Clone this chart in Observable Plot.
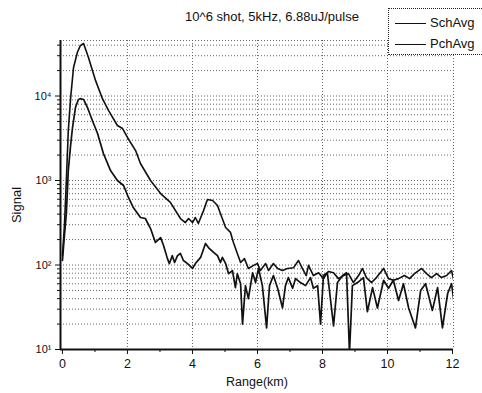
<!DOCTYPE html>
<html>
<head>
<meta charset="utf-8">
<script src="https://cdn.jsdelivr.net/npm/d3@7"></script>
<script src="https://cdn.jsdelivr.net/npm/@observablehq/plot@0.6"></script>
<style>
  html, body { margin: 0; padding: 0; background: #fff; overflow: hidden; }
  #wrap { position: relative; width: 482px; height: 393px; font-family: "Liberation Sans", Arial, sans-serif; }
  #title { position: absolute; top: 9px; left: 272px; transform: translateX(-50%); font-size: 13px; white-space: nowrap; color: #111; }
  #ylabel { position: absolute; left: 16px; top: 205px; transform: translate(-50%, -50%) rotate(-90deg); font-size: 13px; white-space: nowrap; color: #111; }
  #legend { position: absolute; left: 388px; top: 8px; width: 110px; height: 45px; border: 1px dotted #222; background: #fff; }
  .item { position: absolute; left: 6px; height: 16px; font-size: 13px; line-height: 16px; color: #111; white-space: nowrap; }
  .item .sw { display: inline-block; width: 31px; border-top: 1.4px solid #111; vertical-align: middle; margin-right: 4px; }
  svg text { fill: #111; }
</style>
</head>
<body>
<div id="wrap">
  <div id="chart"></div>
  <div id="title"></div>
  <div id="ylabel"></div>
  <div id="legend"></div>
</div>
<script>
// ---- data (km, signal) ----
const titleText = "10^6 shot, 5kHz, 6.88uJ/pulse";
const yLabelText = "Signal";
const xLabelText = "Range(km)";
const seriesNames = ["SchAvg", "PchAvg"];
const xTicks = [0, 2, 4, 6, 8, 10, 12];
const xMinorTicks = [1, 3, 5, 7, 9, 11];
const yTicks = [10, 100, 1000, 10000];

const schKm = [0.00, 0.06, 0.12, 0.18, 0.25, 0.34, 0.46, 0.55, 0.65, 0.80, 1.02, 1.23, 1.42, 1.69, 1.85, 2.00, 2.25, 2.40, 2.71, 3.02, 3.32, 3.63, 3.78, 3.88, 4.00, 4.09, 4.18, 4.34, 4.46, 4.62, 4.77, 4.86, 5.02, 5.17, 5.26, 5.38, 5.48, 5.60,
  5.72, 5.88, 6.00, 6.09, 6.25, 6.34, 6.49, 6.62, 6.77, 6.92, 7.11, 7.26, 7.38, 7.50, 7.57, 7.72, 7.88, 8.03, 8.18, 8.34, 8.49, 8.65, 8.80, 8.95, 9.11, 9.23, 9.35, 9.51, 9.66, 9.88, 10.03, 10.18, 10.34, 10.52, 10.68, 10.83, 11.05, 11.20, 11.35, 11.51, 11.66, 11.82, 11.97, 12.06];
const schVal = [130, 290, 1000, 3900, 9300, 21600, 33000, 39500, 41800, 28500, 15200, 9300, 6700, 4480, 4120, 3230, 2260, 1590, 1000, 700, 550, 355, 318, 355, 318, 365, 310, 440, 596, 580, 506, 406, 278, 243, 185, 137, 107, 119,
  91, 99, 104, 86, 104, 86, 104, 91, 86, 91, 93, 113, 91, 75, 99, 75, 81, 69, 84, 81, 69, 75, 79, 62, 75, 91, 71, 62, 71, 91, 69, 66, 69, 75, 69, 79, 91, 79, 71, 79, 71, 75, 86, 60];

const pchKm = [0.00, 0.06, 0.12, 0.18, 0.25, 0.31, 0.40, 0.49, 0.55, 0.65, 0.77, 0.92, 1.08, 1.26, 1.48, 1.69, 1.88, 2.03, 2.18, 2.40, 2.55, 2.71, 2.86, 3.02, 3.11, 3.23, 3.29, 3.38, 3.45, 3.54, 3.63, 3.72, 3.85, 4.00, 4.09, 4.25, 4.40, 4.49, 4.65, 4.77, 4.86, 4.92, 5.02, 5.11, 5.23, 5.32, 5.38, 5.48,
  5.54, 5.63, 5.72, 5.85, 5.94, 6.03, 6.15, 6.28, 6.37, 6.49, 6.62, 6.77, 6.86, 6.95, 7.08, 7.17, 7.32, 7.48, 7.63, 7.72, 7.85, 7.94, 8.03, 8.15, 8.34, 8.46, 8.62, 8.74, 8.83, 8.92, 9.08,
  9.26, 9.38, 9.54, 9.69, 9.88, 10.03, 10.18, 10.34, 10.49, 10.65, 10.86, 11.02, 11.17, 11.38, 11.54, 11.69, 11.85, 11.97, 12.09];
const pchVal = [113, 223, 406, 1310, 2590, 4240, 7310, 9100, 9300, 9100, 7310, 5130, 3600, 2090, 1310, 1000, 873, 630, 479, 365, 355, 270, 185, 211, 170, 119, 104, 129, 107, 129, 137, 113, 104, 91, 104, 123, 180, 161, 141, 129, 107, 123, 104, 79, 86, 54, 79, 60,
  20, 57, 40, 81, 62, 91, 57, 18, 57, 75, 53, 31, 57, 71, 53, 69, 62, 57, 71, 53, 57, 20, 75, 81, 19, 62, 75, 81, 9, 57, 62,
  71, 28, 54, 31, 66, 53, 66, 38, 60, 31, 18, 50, 60, 29, 54, 18, 46, 60, 27];

const sch = schKm.map((x, i) => ({x, y: schVal[i]}));
const pch = pchKm.map((x, i) => ({x, y: pchVal[i]}));

const yMinor = [];
for (const d of [10, 100, 1000, 10000]) for (let k = 2; k <= 9; k++) if (d * k < 45000) yMinor.push(d * k);
const sup = {1: "\u00B9", 2: "\u00B2", 3: "\u00B3", 4: "\u2074"};

const chart = Plot.plot({
  width: 482,
  height: 393,
  marginLeft: 60,
  marginRight: 29,
  marginTop: 40,
  marginBottom: 44,
  style: {fontFamily: "'Liberation Sans', Arial, sans-serif", fontSize: "11px", background: "white", color: "#111"},
  x: {domain: [-0.06, 12.03]},
  y: {type: "log", domain: [10, 45400]},
  marks: [
    Plot.gridY(yMinor.concat([100, 1000, 10000, 45400]), {stroke: "#555", strokeOpacity: 0.9, strokeDasharray: "1,2"}),
    Plot.gridX([2, 4, 6, 8, 10, 12.03], {stroke: "#555", strokeOpacity: 0.9, strokeDasharray: "1,2"}),
    Plot.axisY(yMinor, {tickSize: 3, tickFormat: () => "", label: null}),
    Plot.axisY(yTicks, {tickSize: 5, tickPadding: 4, tickFormat: d => "10" + sup[Math.round(Math.log10(d))], fontSize: 11, label: null}),
    Plot.axisX(xMinorTicks, {tickSize: 3, tickFormat: () => "", label: null}),
    Plot.axisX(xTicks, {tickSize: 5, tickPadding: 5, fontSize: 12.5,
      label: xLabelText, labelAnchor: "center", labelArrow: "none", labelOffset: 36}),
    Plot.ruleX([-0.06], {stroke: "#111", strokeWidth: 2}),
    Plot.ruleY([10], {stroke: "#111", strokeWidth: 2}),
    Plot.line(sch, {x: "x", y: "y", stroke: "#111", strokeWidth: 1.6, clip: true}),
    Plot.line(pch, {x: "x", y: "y", stroke: "#111", strokeWidth: 1.7, clip: true})
  ]
});
document.getElementById("chart").appendChild(chart);

document.getElementById("title").textContent = titleText;
document.getElementById("ylabel").textContent = yLabelText;
const legend = document.getElementById("legend");
seriesNames.forEach((name, i) => {
  const it = document.createElement("div");
  it.className = "item";
  it.style.top = (6 + i * 21) + "px";
  it.innerHTML = '<span class="sw"></span>' + name;
  legend.appendChild(it);
});
</script>
</body>
</html>
